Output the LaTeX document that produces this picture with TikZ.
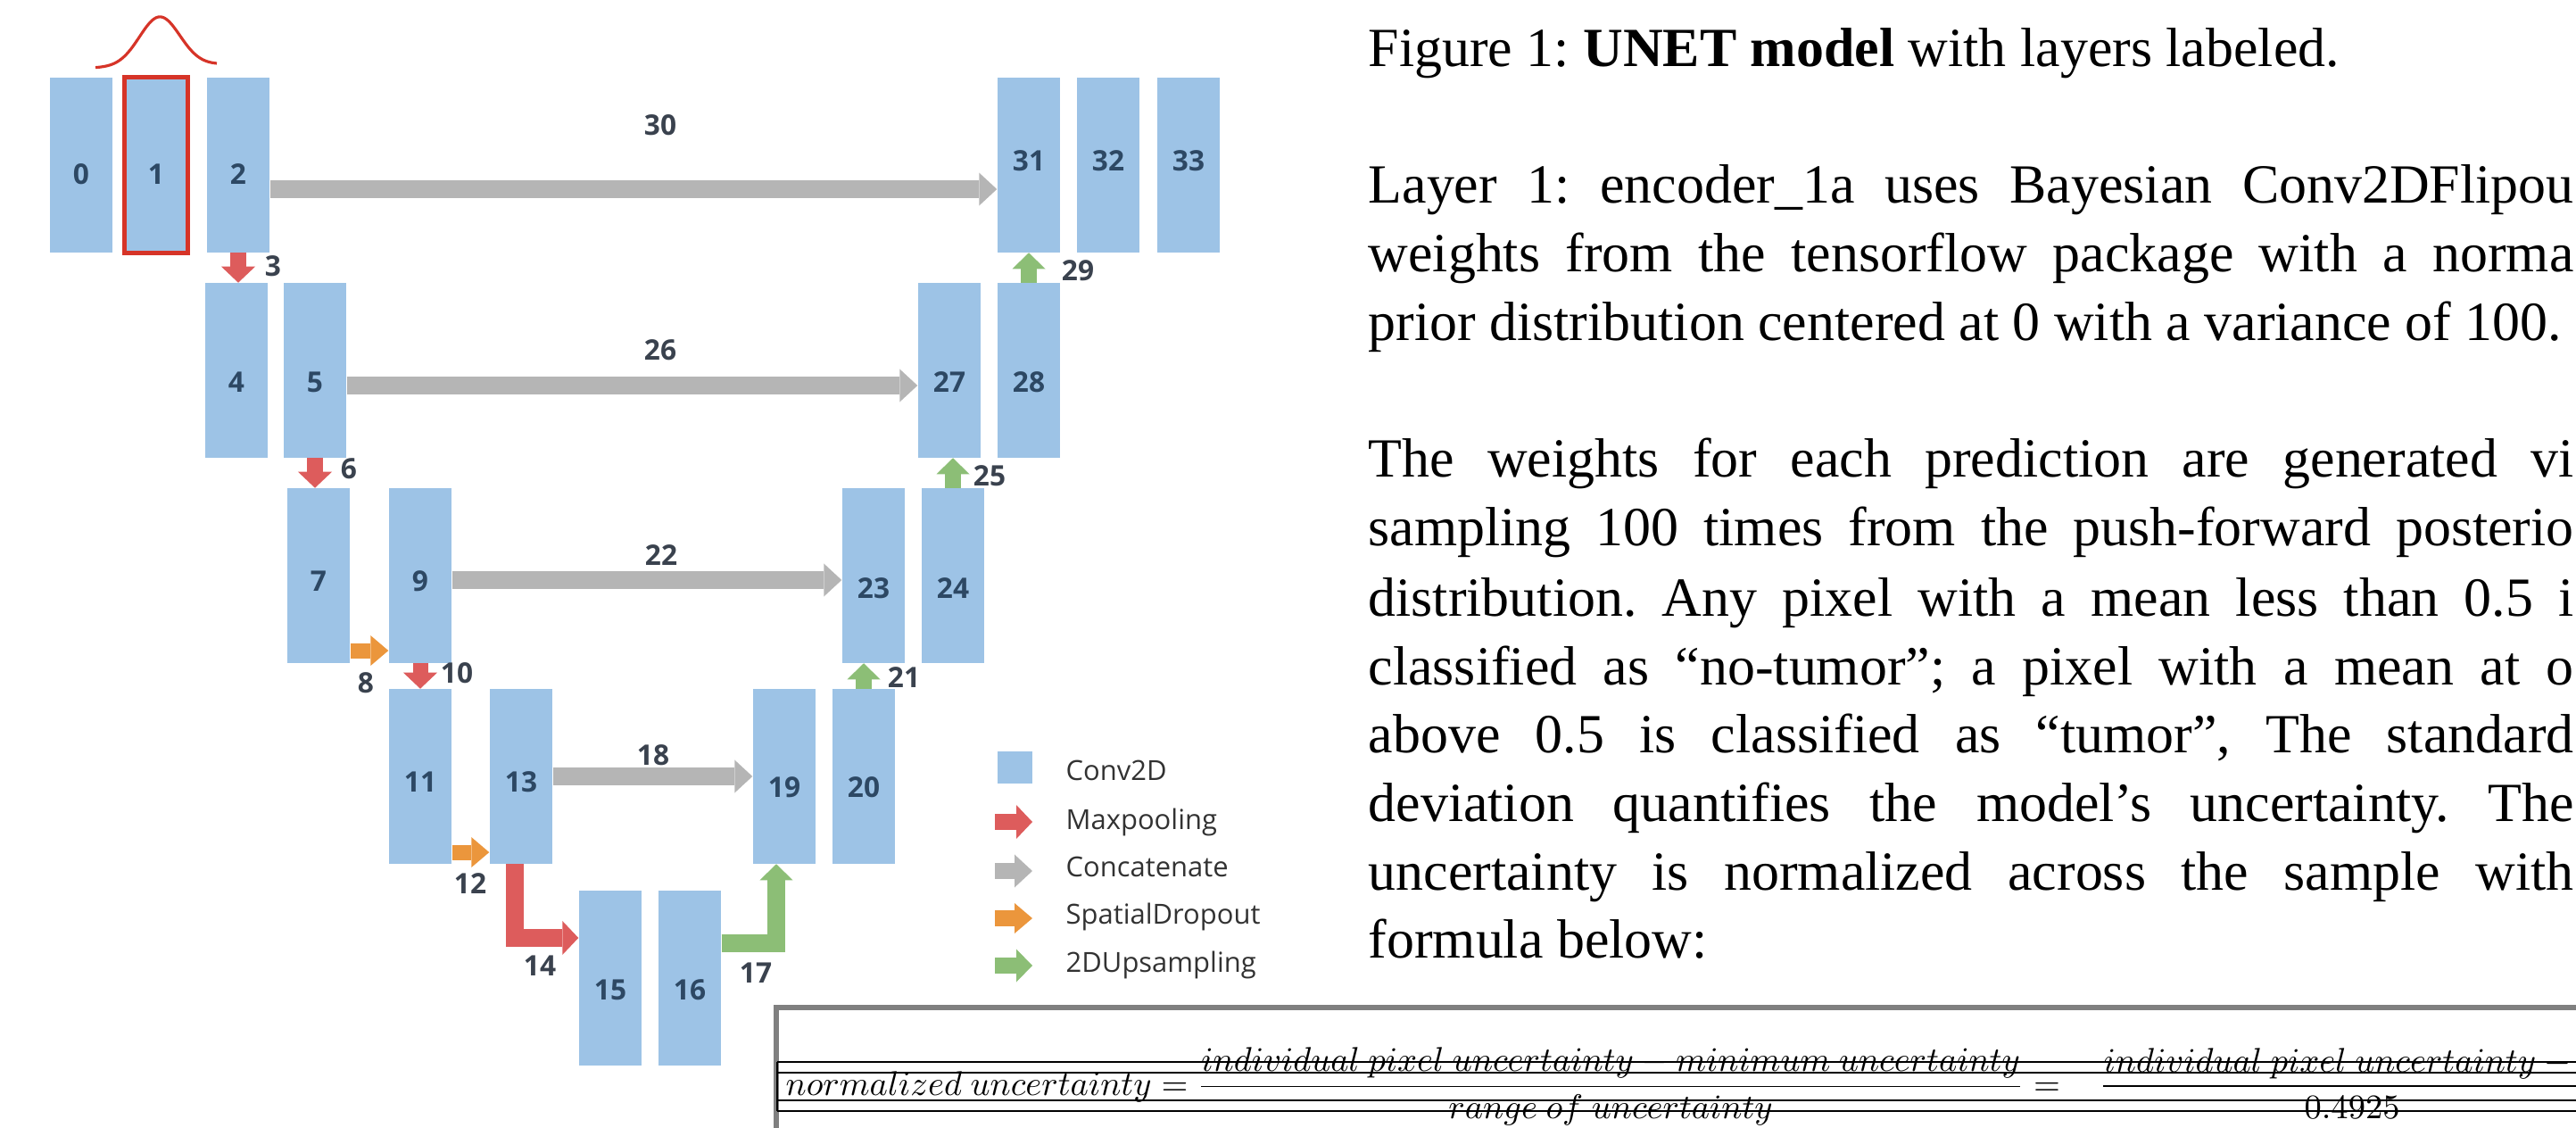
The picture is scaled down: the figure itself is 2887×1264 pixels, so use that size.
\documentclass[tikz,border=0pt]{standalone}
\usepackage[no-math]{fontspec}
\setmainfont{Liberation Serif}
\newfontfamily\unetfont{Open Sans}
\usepackage{xcolor}
\usetikzlibrary{arrows.meta,calc,positioning}

\definecolor{ConvBlue}{RGB}{157,195,230}
\definecolor{PoolRed}{RGB}{221,92,92}
\definecolor{ConcatGray}{RGB}{181,181,181}
\definecolor{DropOrange}{RGB}{235,150,60}
\definecolor{UpGreen}{RGB}{140,190,118}
\definecolor{LabelInk}{RGB}{45,72,100}
\definecolor{NumInk}{RGB}{58,66,78}
\definecolor{LegendInk}{RGB}{50,50,50}
\definecolor{SketchRed}{RGB}{214,52,40}
\definecolor{FrameGray}{RGB}{128,128,128}

\begin{document}
\begin{tikzpicture}[x=0.01cm,y=-0.01cm,
    layer node/.style={fill=ConvBlue,minimum width=0.7cm,minimum height=1.95cm,inner sep=0pt,
        font=\unetfont\bfseries\fontsize{9}{10}\selectfont,text=LabelInk,text depth=0pt},
    num label/.style={font=\unetfont\bfseries\fontsize{9}{10}\selectfont,text=NumInk,inner sep=0pt},
    pool arrow/.style={PoolRed,line width=0.17cm,-{Triangle[width=0.38cm,length=0.18cm,line width=0pt]}},
    concat arrow/.style={ConcatGray,line width=0.2cm,-{Triangle[width=0.37cm,length=0.2cm,line width=0pt]}},
    drop arrow/.style={DropOrange,line width=0.17cm,-{Triangle[width=0.34cm,length=0.2cm,line width=0pt]}},
    up arrow/.style={UpGreen,line width=0.18cm,-{Triangle[width=0.37cm,length=0.18cm,line width=0pt]}},
    body text/.style={anchor=base west,inner sep=0pt,font=\fontsize{17.6}{21}\selectfont\frenchspacing},
    math text/.style={inner sep=0pt,font=\fontsize{11}{13}\selectfont},
    legend text/.style={anchor=base west,inner sep=0pt,font=\unetfont\fontsize{8.8}{10}\selectfont,text=LegendInk}]

\useasboundingbox (0,0) rectangle (2887,1264);
\clip (0,0) rectangle (2887,1264);

% layers of the U (last value lifts or drops the number)
\foreach \n/\x/\y/\h in {0/91/185/0.43,1/175/185/0.43,2/267/185/0.43,4/265/415/0.49,5/353/415/0.49,
    7/357/645/0.35,9/471/645/0.35,11/471/870/0.35,13/584/870/0.35,15/684/1096/0.49,16/773/1096/0.49,
    19/879/870/0.47,20/968/870/0.47,23/979/645/0.51,24/1068/645/0.51,27/1064/415/0.49,28/1153/415/0.49,
    31/1153/185/0.13,32/1242/185/0.13,33/1332/185/0.13}
   \node[layer node,text height=\h cm] (Layer\n) at (\x,\y) {\n};

% hand drawn prior on layer 1
\draw[SketchRed,line width=1.3pt] (Layer1.north west) rectangle (Layer1.south east);
\draw[SketchRed,line width=0.9pt] plot[domain=107:243,samples=80,smooth]
   (\x,{76-4*(\x-107)/136-55*exp(-(((\x-179)/32)^2))});

% skip connections
\draw[concat arrow] ([yshift=-0.27cm]Layer2.east) -- ([yshift=-0.27cm]Layer31.west);
\draw[concat arrow] ([yshift=-0.17cm]Layer5.east) -- ([yshift=-0.17cm]Layer27.west);
\draw[concat arrow] ([yshift=-0.05cm]Layer9.east) -- ([yshift=-0.05cm]Layer23.west);
\draw[concat arrow] (Layer13.east) -- (Layer19.west);

% pooling
\draw[pool arrow] (Layer2.south) -- (Layer2.south |- Layer4.north);
\draw[pool arrow] (Layer5.south) -- (Layer5.south |- Layer7.north);
\draw[pool arrow] (Layer9.south) -- (Layer9.south |- Layer11.north);
\draw[pool arrow,line width=0.2cm] ([xshift=-0.07cm]Layer13.south) |- ([yshift=0.45cm]Layer15.west);

% dropout
\draw[drop arrow] ([yshift=-0.84cm]Layer7.east) -- ([yshift=-0.84cm]Layer9.west);
\draw[drop arrow] ([yshift=-0.85cm]Layer11.east) -- ([yshift=-0.85cm]Layer13.west);

% upsampling
\draw[up arrow,line width=0.2cm] ([yshift=0.39cm]Layer16.east) -| ([xshift=-0.09cm]Layer19.south);
\draw[up arrow] (Layer20.north) -- (Layer20.north |- Layer23.south);
\draw[up arrow] (Layer24.north) -- (Layer24.north |- Layer27.south);
\draw[up arrow] (Layer28.north) -- (Layer28.north |- Layer31.south);

% numbers of the connections
\foreach \n/\x/\y in {3/306/298,6/391/525,8/410/765,10/512/754,12/527/990,14/605/1082,
    17/847/1090,21/1013/759,25/1109/533,29/1208/303,30/740/140,26/740/392,22/741/622,18/732/846}
   \node[num label] (Num\n) at (\x,\y) {\n};

% legend
\node[fill=ConvBlue,minimum width=0.39cm,minimum height=0.35cm,inner sep=0pt] (KeyConv) at (1137,860) {};
\node[legend text] (KeyConvText) at (1194,874) {Conv2D};
\coordinate (KeyPoolStart) at (1115,921);
\coordinate (KeyPoolEnd) at (1157,921);
\draw[pool arrow] (KeyPoolStart) -- (KeyPoolEnd);
\node[legend text] (KeyPoolText) at (1194,929) {Maxpooling};
\coordinate (KeyConcatStart) at (1115,976);
\coordinate (KeyConcatEnd) at (1157,976);
\draw[concat arrow,line width=0.18cm] (KeyConcatStart) -- (KeyConcatEnd);
\node[legend text] (KeyConcatText) at (1194,982) {Concatenate};
\coordinate (KeyDropStart) at (1115,1029);
\coordinate (KeyDropEnd) at (1157,1029);
\draw[drop arrow] (KeyDropStart) -- (KeyDropEnd);
\node[legend text] (KeyDropText) at (1194,1035) {SpatialDropout};
\coordinate (KeyUpStart) at (1115,1082);
\coordinate (KeyUpEnd) at (1157,1082);
\draw[up arrow,line width=0.17cm] (KeyUpStart) -- (KeyUpEnd);
\node[legend text] (KeyUpText) at (1194,1089) {2DUpsampling};

% caption text
\node[body text] (Caption) at (1533,75) {Figure 1: \textbf{UNET model} with layers labeled.};
\node[body text] (PriorLineA) at (1533,228) {\makebox[13.5cm][s]{Layer 1: encoder\_1a uses Bayesian Conv2DFlipou}};
\node[body text] (PriorLineB) at (1533,305) {\makebox[13.5cm][s]{weights from the tensorflow package with a norma}};
\node[body text] (PriorLineC) at (1533,382) {prior distribution centered at 0 with a variance of 100.};
\node[body text] (SampleLineA) at (1533,535) {\makebox[13.5cm][s]{The weights for each prediction are generated vi}};
\node[body text] (SampleLineB) at (1533,611) {\makebox[13.5cm][s]{sampling 100 times from the push-forward posterio}};
\node[body text] (SampleLineC) at (1533,690) {\makebox[13.5cm][s]{distribution. Any pixel with a mean less than 0.5 i}};
\node[body text] (SampleLineD) at (1533,767) {\makebox[13.5cm][s]{classified as “no-tumor”; a pixel with a mean at o}};
\node[body text] (SampleLineE) at (1533,843) {\makebox[13.5cm][s]{above 0.5 is classified as “tumor”, The standard}};
\node[body text] (SampleLineF) at (1533,920) {\makebox[13.5cm][s]{deviation quantifies the model’s uncertainty. The}};
\node[body text] (SampleLineG) at (1533,997) {\makebox[13.5cm][s]{uncertainty is normalized across the sample with}};
\node[body text] (SampleLineH) at (1533,1073) {formula below:};

% formula box
\draw[FrameGray,line width=1.6pt] (870,1264) -- (870,1129) -- (2887,1129);
\foreach \y in {1190,1202,1233,1245}
   \draw[line width=0.8pt] (871,\y) -- (2887,\y);
\draw[line width=0.8pt] (871,1190) -- (871,1245);
\node[math text,anchor=base west] (FormulaLeft) at (880,1227)
   {$\displaystyle normalized\ uncertainty = \frac{individual\ pixel\ uncertainty - minimum\ uncertainty}{range\ of\ uncertainty} =$};
\node[math text,anchor=base west] (SecondNum) at (2357,1201) {$individual\ pixel\ uncertainty -{}$};
\node[math text,anchor=base] (SecondDen) at (2636,1253) {$0.4925$};
\coordinate (SecondBarStart) at (2357,1217);
\coordinate (SecondBarEnd) at (2887,1217);
\draw[line width=0.44pt] (SecondBarStart) -- (SecondBarEnd);

\end{tikzpicture}
\end{document}
